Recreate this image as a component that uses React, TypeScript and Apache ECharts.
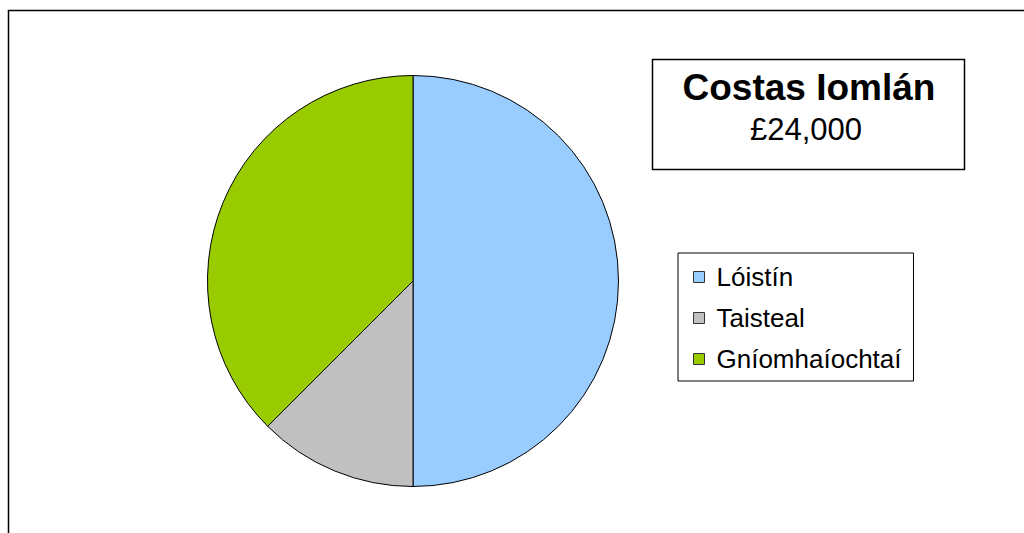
import React, { useEffect, useRef } from "react";
import * as echarts from "echarts";

const categories = ["Lóistín", "Taisteal", "Gníomhaíochtaí"];
const values = [12000, 3000, 9000];
const colors = ["#99CCFF", "#C0C0C0", "#99CC00"];
const titleText = "Costas Iomlán";
const totalText = "£24,000";

const FONT = "'Liberation Sans', Arial, Helvetica, sans-serif";

export default function App() {
  const ref = useRef<HTMLDivElement>(null);
  useEffect(() => {
    document.body.style.margin = "0";
    const chart = echarts.init(ref.current!, undefined, { renderer: "svg" });
    chart.setOption({
      animation: false,
      backgroundColor: "#ffffff",
      legend: {
        orient: "vertical",
        left: 678,
        top: 253,
        data: categories,
        icon: "rect",
        itemWidth: 11,
        itemHeight: 11,
        itemGap: 11,
        padding: [9, 12, 7, 15],
        borderColor: "#000",
        borderWidth: 1,
        selectedMode: false,
        itemStyle: { borderColor: "#333", borderWidth: 1 },
        textStyle: {
          fontFamily: FONT,
          fontSize: 26,
          lineHeight: 30,
          color: "#000",
          padding: [0, 0, 0, 7],
        },
      },
      graphic: [
        {
          type: "polyline",
          shape: { points: [[8.5, 533], [8.5, 10.5], [1024, 10.5]] },
          style: { stroke: "#000", lineWidth: 1.5, fill: "none" },
          silent: true,
        },
        {
          type: "rect",
          shape: { x: 652.5, y: 59.5, width: 312, height: 110 },
          style: { stroke: "#000", lineWidth: 1.5, fill: "#fff" },
          silent: true,
        },
        {
          type: "text",
          x: 809,
          y: 106,
          style: {
            text: titleText,
            fontFamily: FONT,
            fontSize: 37,
            fontWeight: "bold",
            fill: "#000",
            align: "center",
            verticalAlign: "bottom",
          },
        },
        {
          type: "text",
          x: 806,
          y: 145,
          style: {
            text: totalText,
            fontFamily: FONT,
            fontSize: 31,
            fill: "#000",
            align: "center",
            verticalAlign: "bottom",
          },
        },
      ],
      series: [
        {
          type: "pie",
          center: [413, 281],
          radius: 205.5,
          startAngle: 90,
          clockwise: true,
          label: { show: false },
          labelLine: { show: false },
          emphasis: { disabled: true },
          itemStyle: { borderColor: "#000", borderWidth: 1 },
          data: categories.map((name, i) => ({
            name,
            value: values[i],
            itemStyle: { color: colors[i] },
          })),
        },
      ],
    });
    return () => chart.dispose();
  }, []);
  return <div ref={ref} style={{ width: 1024, height: 533 }} />;
}
